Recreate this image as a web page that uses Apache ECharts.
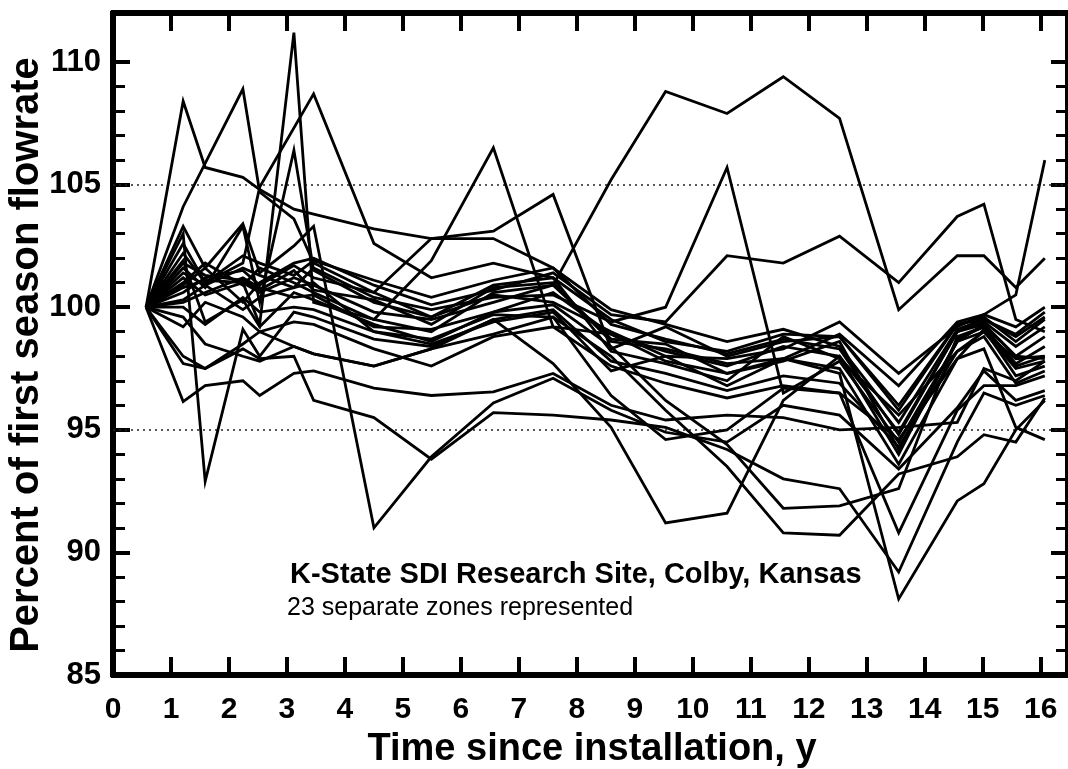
<!DOCTYPE html>
<html><head><meta charset="utf-8">
<script src="https://cdn.jsdelivr.net/npm/echarts@6/dist/echarts.min.js"></script>
<style>html,body{margin:0;padding:0;background:#fff}#c{width:1068px;height:769px}</style>
</head><body><div id="c"></div>
<script>
// Measurement times (years since installation)
const years = [0.57,1.21,1.59,2.24,2.53,3.12,3.46,4.5,5.49,6.56,7.59,8.59,9.53,10.59,11.56,12.53,13.55,14.56,15.02,15.57,16.07];

// Percent of first season flowrate, one array per zone (null = not measured)
const zone01 = [100,108.4,105.7,105.3,104.8,104.0,103.8,103.2,102.8,102.8,101.6,99.3,98.7,98.1,98.7,98.3,94.8,99.0,99.4,98.4,99.2];
const zone02 = [100,101.2,100.5,101.0,99.3,111.2,100.2,99.5,99.0,100.6,100.9,98.7,98.5,97.3,97.8,98.6,94.2,98.6,99.3,98.0,98.8];
const zone03 = [100,103.3,101.6,103.4,101.4,102.5,103.3,91.0,93.9,96.1,97.1,95.8,94.9,94.5,96.0,95.6,93.4,95.9,97.4,96.2,96.6];
const zone04 = [100,102.6,101.0,101.8,104.9,null,108.7,102.6,101.2,101.8,101.2,98.2,97.7,97.0,98.8,97.9,95.6,98.2,99.0,97.5,97.8];
const zone05 = [100,104.1,null,108.9,104.7,103.6,101.8,100.6,99.6,100.5,100.2,99.0,98.0,96.8,97.9,97.5,93.6,97.9,99.1,97.2,97.6];
const zone06 = [100,101.6,100.8,103.3,100.2,106.4,101.5,100.2,99.6,100.9,101.2,99.5,98.6,98.2,98.9,98.8,95.8,99.3,99.6,98.6,99.5];
const zone07 = [100,103.0,92.9,99.1,98.0,99.8,99.6,98.7,98.4,99.5,99.9,97.8,97.3,96.6,97.2,96.9,94.3,98.2,98.8,96.9,97.4];
const zone08 = [100,101.0,101.8,100.9,101.6,101.0,100.6,99.5,101.9,106.5,99.2,98.9,98.2,97.6,98.4,98.0,94.0,98.7,99.2,97.7,98.4];
const zone09 = [100,100.6,101.2,101.5,100.9,101.7,101.2,100.6,102.8,103.1,104.6,98.3,99.2,98.0,98.6,98.8,96.0,99.3,99.5,98.8,99.6];
const zone10 = [100,100.8,101.1,101.0,100.6,101.2,100.9,99.8,99.5,100.2,100.9,105.2,108.8,107.9,109.4,107.7,99.9,102.1,102.1,100.8,102.0];
const zone11 = [100,101.4,100.9,101.6,101.3,100.8,101.6,100.4,99.9,100.4,100.5,99.4,100.0,105.7,96.5,97.8,94.5,98.6,99.0,97.9,98.0];
const zone12 = [100,99.6,98.5,98.0,97.8,98.4,98.1,97.6,98.3,99.5,97.7,95.1,91.2,91.6,96.2,98.0,94.9,99.0,99.3,98.0,97.9];
const zone13 = [100,96.15,96.8,97.0,96.4,97.3,97.4,96.7,96.4,96.55,97.3,96.0,95.4,95.6,95.5,95.0,95.1,95.3,97.5,97.0,97.8];
const zone14 = [100,97.7,97.5,98.3,97.9,98.0,96.2,95.5,93.8,95.7,95.6,95.4,95.1,94.2,93.0,92.6,89.2,94.5,96.5,96.0,96.4];
const zone15 = [100,101.9,99.4,100.3,99.2,100.6,100.3,99.3,98.6,99.8,100.1,98.4,96.2,94.4,91.8,91.9,92.6,98.8,99.2,97.6,98.0];
const zone16 = [100,100.3,100.9,99.9,100.4,100.8,101.0,99.0,98.7,99.7,99.6,98.0,95.8,93.5,90.8,90.7,93.2,93.9,94.8,94.5,96.3];
const zone17 = [100,101.8,101.3,101.1,100.7,101.5,100.7,100.3,99.3,100.8,101.0,98.6,98.3,97.7,97.9,97.3,88.1,92.1,92.8,95.0,96.2];
const zone18 = [100,100.9,101.6,100.2,101.0,101.8,102.0,100.9,100.1,100.7,101.4,99.7,99.4,102.1,101.8,102.9,101.0,103.7,104.2,99.5,99.0];
const zone19 = [100,100.2,100.6,101.2,100.8,100.4,100.5,99.2,99.1,99.8,100.6,98.9,97.8,97.3,97.9,98.9,96.8,99.4,99.7,100.5,106.0];
const zone20 = [100,99.2,100.2,99.6,99.0,99.4,99.3,98.3,97.6,98.8,99.2,97.6,96.9,96.3,96.8,96.5,94.6,97.9,98.3,95.1,94.6];
const zone21 = [100,102.2,101.0,102.1,101.8,101.3,101.9,101.1,100.4,101.1,101.6,99.9,99.3,98.6,99.1,98.4,95.3,99.1,99.5,98.9,99.8];
const zone22 = [100,100.0,99.3,100.4,99.8,100.0,99.9,99.0,98.5,99.4,99.8,97.4,98.0,97.9,98.3,99.4,97.3,99.2,99.7,99.2,100.0];
const zone23 = [100,98.0,97.5,98.5,99.0,98.4,98.1,97.6,98.3,98.9,99.6,96.4,94.6,95.0,96.7,96.5,90.8,95.8,96.8,96.8,97.2];

const refLines = [95, 105];
const xTicks = [0,1,2,3,4,5,6,7,8,9,10,11,12,13,14,15,16];
const yMajorTicks = [85,90,95,100,105,110];
const yMinorTicks = [86,87,88,89,91,92,93,94,96,97,98,99,101,102,103,104,106,107,108,109];
const xTitle = 'Time since installation, y';
const yTitle = 'Percent of first season flowrate';
const noteTitle = 'K-State SDI Research Site, Colby, Kansas';
const noteSub = '23 separate zones represented';

const zones = [zone01,zone02,zone03,zone04,zone05,zone06,zone07,zone08,zone09,zone10,zone11,zone12,
  zone13,zone14,zone15,zone16,zone17,zone18,zone19,zone20,zone21,zone22,zone23];

const FONT = '"Liberation Sans", Arial, Helvetica, sans-serif';
const X_MIN = 0, X_MAX = 16.47, Y_MIN = 85, Y_MAX = 112;

function xAx(pos, labels) {
  return {
    type: 'value', position: pos, min: X_MIN, max: X_MAX,
    axisLine: { show: true, onZero: false, lineStyle: { color: '#000', width: 6 } },
    axisTick: { show: true, inside: true, length: 18, customValues: xTicks, lineStyle: { color: '#000', width: 4 } },
    axisLabel: labels ? { show: true, customValues: xTicks, margin: 20, color: '#000', fontSize: 30, fontWeight: 'bold', fontFamily: FONT } : { show: false },
    splitLine: { show: false }
  };
}
function yAx(pos, ticks, len, w, labels) {
  return {
    type: 'value', position: pos, min: Y_MIN, max: Y_MAX,
    axisLine: { show: true, onZero: false, lineStyle: { color: '#000', width: 6 } },
    axisTick: { show: true, inside: true, length: len, customValues: ticks, lineStyle: { color: '#000', width: w } },
    axisLabel: labels ? { show: true, customValues: ticks, margin: 12, color: '#000', fontSize: 31, fontWeight: 'bold', fontFamily: FONT } : { show: false },
    splitLine: { show: false }
  };
}

const series = zones.map((vals, i) => ({
  type: 'line', name: 'Zone ' + (i + 1), xAxisIndex: 0, yAxisIndex: 0,
  data: years.map((x, j) => [x, vals[j]]).filter(p => p[1] !== null),
  symbol: 'none', showSymbol: false, silent: true, z: 5,
  lineStyle: { color: '#000', width: 2.8, join: 'miter' }
}));
series.unshift({
  type: 'line', xAxisIndex: 0, yAxisIndex: 0, data: [], z: 2, silent: true,
  markLine: {
    silent: true, symbol: 'none', label: { show: false }, animation: false,
    lineStyle: { color: '#222', width: 1.6, type: [2, 4] },
    data: refLines.map(v => ({ yAxis: v }))
  }
});

const chart = echarts.init(document.getElementById('c'), null, { renderer: 'canvas' });
chart.setOption({
  animation: false,
  backgroundColor: '#fff',
  grid: { left: 113, top: 13, width: 960, height: 662, containLabel: false },
  xAxis: [xAx('bottom', true), xAx('top', false)],
  yAxis: [
    yAx('left', yMajorTicks, 17, 4, true),
    yAx('left', yMinorTicks, 12, 3, false),
    yAx('right', yMajorTicks, 17, 4, false),
    yAx('right', yMinorTicks, 12, 3, false)
  ],
  series: series,
  graphic: { elements: [
    { type: 'text', x: 592, y: 750, silent: true,
      style: { text: xTitle, font: 'bold 38px ' + FONT, fill: '#000', textAlign: 'center', textVerticalAlign: 'middle', align: 'center', verticalAlign: 'middle' } },
    { type: 'text', x: 27, y: 355, rotation: Math.PI / 2, silent: true,
      style: { text: yTitle, font: 'bold 40px ' + FONT, fill: '#000', textAlign: 'center', textVerticalAlign: 'middle', align: 'center', verticalAlign: 'middle' } },
    { type: 'text', x: 290, y: 575, silent: true,
      style: { text: noteTitle, font: 'bold 29px ' + FONT, fill: '#000', textAlign: 'left', textVerticalAlign: 'middle', align: 'left', verticalAlign: 'middle' } },
    { type: 'text', x: 287, y: 608, silent: true,
      style: { text: noteSub, font: '25px ' + FONT, fill: '#000', textAlign: 'left', textVerticalAlign: 'middle', align: 'left', verticalAlign: 'middle' } }
  ] }
});
</script>
</body></html>
